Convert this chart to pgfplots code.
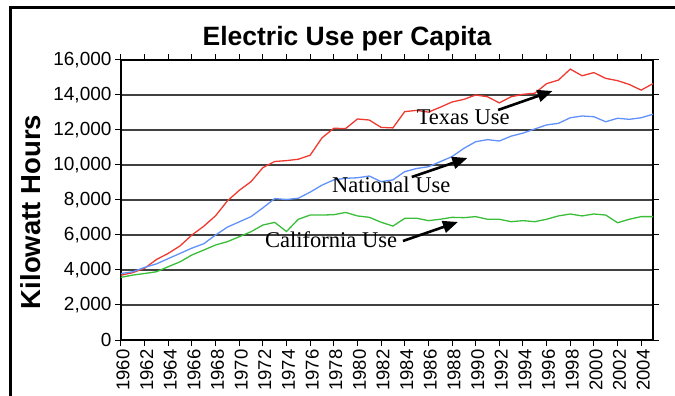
\documentclass[border=0pt]{standalone}
\usepackage{fontspec}
\setmainfont{Liberation Sans}
\newfontfamily\serifnote{Liberation Serif}
\usepackage{pgfplots}
\pgfplotsset{compat=1.18}
\usepackage{pgfplotstable}
\usetikzlibrary{arrows.meta}

\definecolor{texasred}{RGB}{238,58,48}
\definecolor{natblue}{RGB}{96,146,250}
\definecolor{calgreen}{RGB}{58,190,58}

% year, Texas, National, California (kWh per capita)
\pgfplotstableread{
year tx us ca
1960 3700 3800 3580
1961 3850 3900 3710
1962 4100 4150 3800
1963 4600 4350 3900
1964 4950 4650 4190
1965 5380 4950 4470
1966 6000 5250 4860
1967 6500 5500 5140
1968 7100 6000 5430
1969 7950 6450 5620
1970 8550 6750 5900
1971 9050 7050 6190
1972 9850 7550 6570
1973 10200 8080 6720
1974 10250 8030 6200
1975 10330 8100 6900
1976 10560 8450 7140
1977 11550 8850 7140
1978 12100 9150 7160
1979 12080 9240 7290
1980 12630 9270 7090
1981 12570 9370 7010
1982 12150 9050 6730
1983 12120 9150 6510
1984 13050 9620 6950
1985 13120 9800 6960
1986 13020 9900 6820
1987 13300 10190 6900
1988 13600 10480 7010
1989 13750 10950 6990
1990 14000 11330 7050
1991 13900 11450 6900
1992 13550 11370 6900
1993 13900 11650 6760
1994 14040 11820 6820
1995 14100 12060 6760
1996 14650 12290 6900
1997 14850 12380 7090
1998 15480 12700 7200
1999 15100 12800 7090
2000 15280 12760 7200
2001 14950 12470 7140
2002 14820 12670 6700
2003 14600 12610 6900
2004 14280 12700 7050
2005 14650 12900 7050
}\elecdata

\begin{document}
\begin{tikzpicture}
\useasboundingbox (0,0) rectangle (675bp,396bp);
\clip (0,0) rectangle (675bp,396bp);

% outer chart frame (runs off the right and bottom)
\draw[line width=2.2bp] (10.5bp,-30bp) -- (10.5bp,388.5bp) -- (720bp,388.5bp);

% title and y label
\node[anchor=base, font=\bfseries\fontsize{26.5bp}{30bp}\selectfont, inner sep=0pt]
  at (347bp,350.3bp) {Electric Use per Capita};
\node[rotate=90, font=\bfseries\fontsize{27.5bp}{30bp}\selectfont, inner sep=0pt]
  at (31bp,184bp) {Kilowatt Hours};

\begin{axis}[
  scale only axis,
  width=532bp, height=280bp,
  at={(121bp,56bp)}, anchor=south west,
  xmin=1960, xmax=2005,
  ymin=0, ymax=16000,
  xtick={1960,1962,...,2004},
  minor x tick num=1,
  ytick={0,2000,...,16000},
  scaled y ticks=false,
  tick align=outside,
  major tick length=6bp,
  minor tick length=6bp,
  tick style={black, line width=1bp},
  minor tick style={black!55, line width=1bp},
  axis line style={black, line width=1.6bp},
  ymajorgrids,
  major grid style={black!75, line width=1.1bp},
  /pgf/number format/assume math mode=true,
  yticklabel style={font=\fontsize{19bp}{20bp}\selectfont,
    /pgf/number format/1000 sep={,}},
  xticklabel style={font=\fontsize{18.5bp}{20bp}\selectfont, rotate=90, anchor=east,
    yshift=-2bp, /pgf/number format/1000 sep={}},
  clip=false,
]
\addplot[texasred, line width=1.3bp] table[x=year, y=tx] {\elecdata};
\addplot[natblue, line width=1.3bp] table[x=year, y=us] {\elecdata};
\addplot[calgreen, line width=1.3bp] table[x=year, y=ca] {\elecdata};

% series annotations
\node[anchor=base west, inner sep=0pt, font=\serifnote\fontsize{22.5bp}{24bp}\selectfont]
  at (axis cs:1985.0,12286) {Texas Use};
\draw[line width=2.6bp, -{Triangle[length=15bp,width=12bp]}]
  (axis cs:1991.9,13143) -- (axis cs:1996.5,14229);

\node[anchor=base west, inner sep=0pt, font=\serifnote\fontsize{22.5bp}{24bp}\selectfont]
  at (axis cs:1977.85,8400) {National Use};
\draw[line width=2.6bp, -{Triangle[length=15bp,width=12bp]}]
  (axis cs:1984.6,9314) -- (axis cs:1989.3,10400);

\node[anchor=base west, inner sep=0pt, font=\serifnote\fontsize{22.5bp}{24bp}\selectfont]
  at (axis cs:1972.18,5314) {California Use};
\draw[line width=2.6bp, -{Triangle[length=15bp,width=12bp]}]
  (axis cs:1983.85,5657) -- (axis cs:1988.5,6743);
\end{axis}
\end{tikzpicture}
\end{document}
